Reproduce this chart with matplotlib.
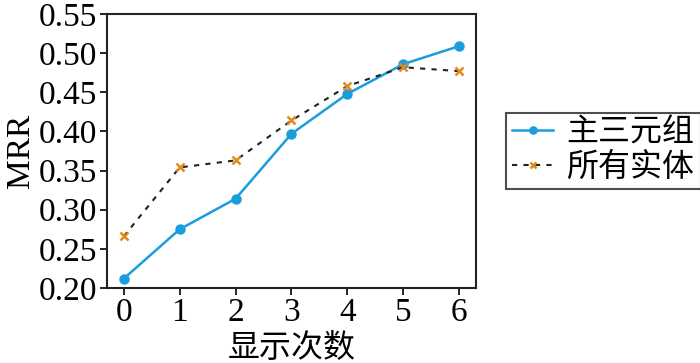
import matplotlib
matplotlib.use("Agg")
import matplotlib.pyplot as plt

x = [0, 1, 2, 3, 4, 5, 6]
main_triples = [0.212, 0.275, 0.314, 0.397, 0.448, 0.486, 0.509]
all_entities = [0.266, 0.354, 0.363, 0.414, 0.458, 0.482, 0.477]
labels = ["主三元组", "所有实体"]
yticks = [0.20, 0.25, 0.30, 0.35, 0.40, 0.45, 0.50, 0.55]

fam = ["Liberation Serif", "Noto Sans CJK SC"]
plt.rcParams["font.family"] = fam

fig = plt.figure(figsize=(7, 3.63), dpi=100)
ax = fig.add_axes([107/700, 1-288/363, (476-107)/700, (288-14)/363])
ax.plot(x, main_triples, color="#1a9ddc", lw=1.8, marker="o", ms=6.5, label=labels[0])
ax.plot(x, all_entities, color="#222222", lw=1.5, ls=(0, (2.5, 3)), marker="x", ms=5.5,
        mec="#e08a1e", mew=1.8, label=labels[1])
ax.set_xlim(-0.3, 6.3)
ax.set_ylim(0.20, 0.55)
ax.set_xticks(x)
ax.set_yticks(yticks)
ax.set_yticklabels([f"{v:.2f}" for v in yticks])
ax.tick_params(labelsize=24, length=5, width=1.2, direction="out", pad=2)
for s in ax.spines.values():
    s.set_linewidth(1.5)
    s.set_color("#222222")
ax.set_xlabel("显示次数", fontsize=23, labelpad=4)
ax.set_ylabel("MRR", fontsize=24, labelpad=2)
leg = ax.legend(loc="center left", bbox_to_anchor=(1.08, 0.50), fontsize=23,
                frameon=True, fancybox=False, edgecolor="#222222", handlelength=1.3,
                borderpad=0.2, labelspacing=0.12, handletextpad=0.4, borderaxespad=0,
                markerscale=0.8)
leg.get_frame().set_linewidth(1.5)
fig.savefig("out.png", dpi=100)
